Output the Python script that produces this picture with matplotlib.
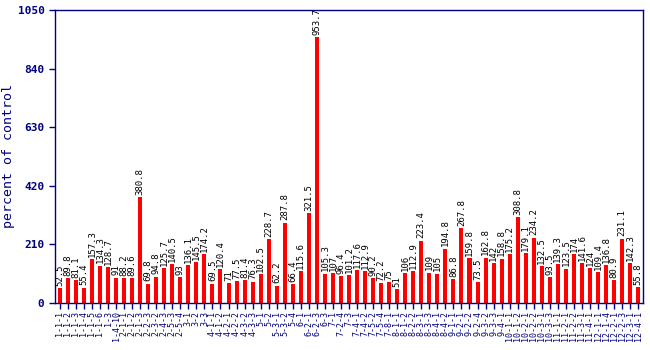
import matplotlib
matplotlib.use("Agg")
import matplotlib.pyplot as plt

labels = ["1-1-1","1-1-2","1-1-3","1-1-4","1-1-5","1-1-6","1-3","1-4-10",
          "2-1-1","2-1-2","2-1-3","2-2-3","2-3-2","2-4-3","2-5-3","2-5-4",
          "3-1","3-2","3-3",
          "4-1-1","4-1-2","4-2-1","4-2-2","4-3-2","4-3-3",
          "5-1","5-2","5-3-1","5-3-2","5-4",
          "6-1","6-2-1","6-2-3","6-3",
          "7-1","7-2-4","7-3","7-4-1","7-4-2","7-5-2","7-5-4","7-8-1",
          "8-1-1","8-1-2","8-2-2","8-3-1","8-3-3","8-4-1","8-4-2",
          "9-1-1","9-2-1","9-2-2","9-2-4","9-3-2","9-3-3","9-4-1",
          "10-1-1","10-1-2","10-2-1","10-2-2","10-3-1","10-3-3",
          "11-1-1","11-2-1","11-2-2","11-3-1","11-4-1",
          "12-1-1","12-1-4","12-2-1","12-2-3","12-3-1","12-4-1"]
values = [52.5, 89.8, 81.1, 55.4, 157.3, 134.3, 128.7, 91, 88.2, 89.6, 380.8,
          69.8, 94.8, 125.7, 140.5, 93, 136.1, 145.5, 174.2, 69.5, 120.4, 71,
          77.5, 81.4, 76.3, 102.5, 228.7, 62.2, 287.8, 66.4, 115.6, 321.5, 953.7,
          105.3, 107, 96.4, 101.2, 117.6, 112.9, 90.2, 72.2, 75, 51, 106, 112.9,
          223.4, 109, 105, 194.8, 86.8, 267.8, 159.8, 73.5, 162.8, 142, 158.8,
          175.2, 308.8, 179.1, 234.2, 132.5, 93.5, 139.3, 123.5, 174, 141.6, 124,
          109.4, 136.8, 80.9, 231.1, 142.3, 55.8]
yticks = [0, 210, 420, 630, 840, 1050]

navy = "#000080"
fig = plt.figure(figsize=(6.5, 3.5), dpi=100)
ax = fig.add_axes([55/650, 47/350, 588/650, 293/350])
x = list(range(len(values)))
ax.bar(x, values, width=0.5, color="#ff0000")
for xi, v in zip(x, values):
    ax.text(xi, v + 8, f"{v:g}", rotation=90, ha="center", va="bottom",
            fontsize=6.5, family="DejaVu Sans Mono", color="black")
ax.set_xlim(-0.6, len(values) - 0.4)
ax.set_ylim(0, 1050)
ax.set_yticks(yticks)
ax.set_yticklabels([str(t) for t in yticks], fontsize=8, fontweight="bold",
                   family="DejaVu Sans Mono", color=navy)
ax.set_xticks(x)
ax.set_xticklabels(labels, rotation=90, fontsize=6, family="DejaVu Sans Mono",
                   color=navy)
ax.tick_params(axis="both", colors=navy, length=4, width=1)
ax.tick_params(axis="x", pad=2)
for s in ax.spines.values():
    s.set_color(navy)
    s.set_linewidth(1)
ax.set_ylabel("percent of control", fontsize=9.5, family="DejaVu Sans Mono",
              color=navy, labelpad=2)
fig.savefig("out.png", dpi=100)
